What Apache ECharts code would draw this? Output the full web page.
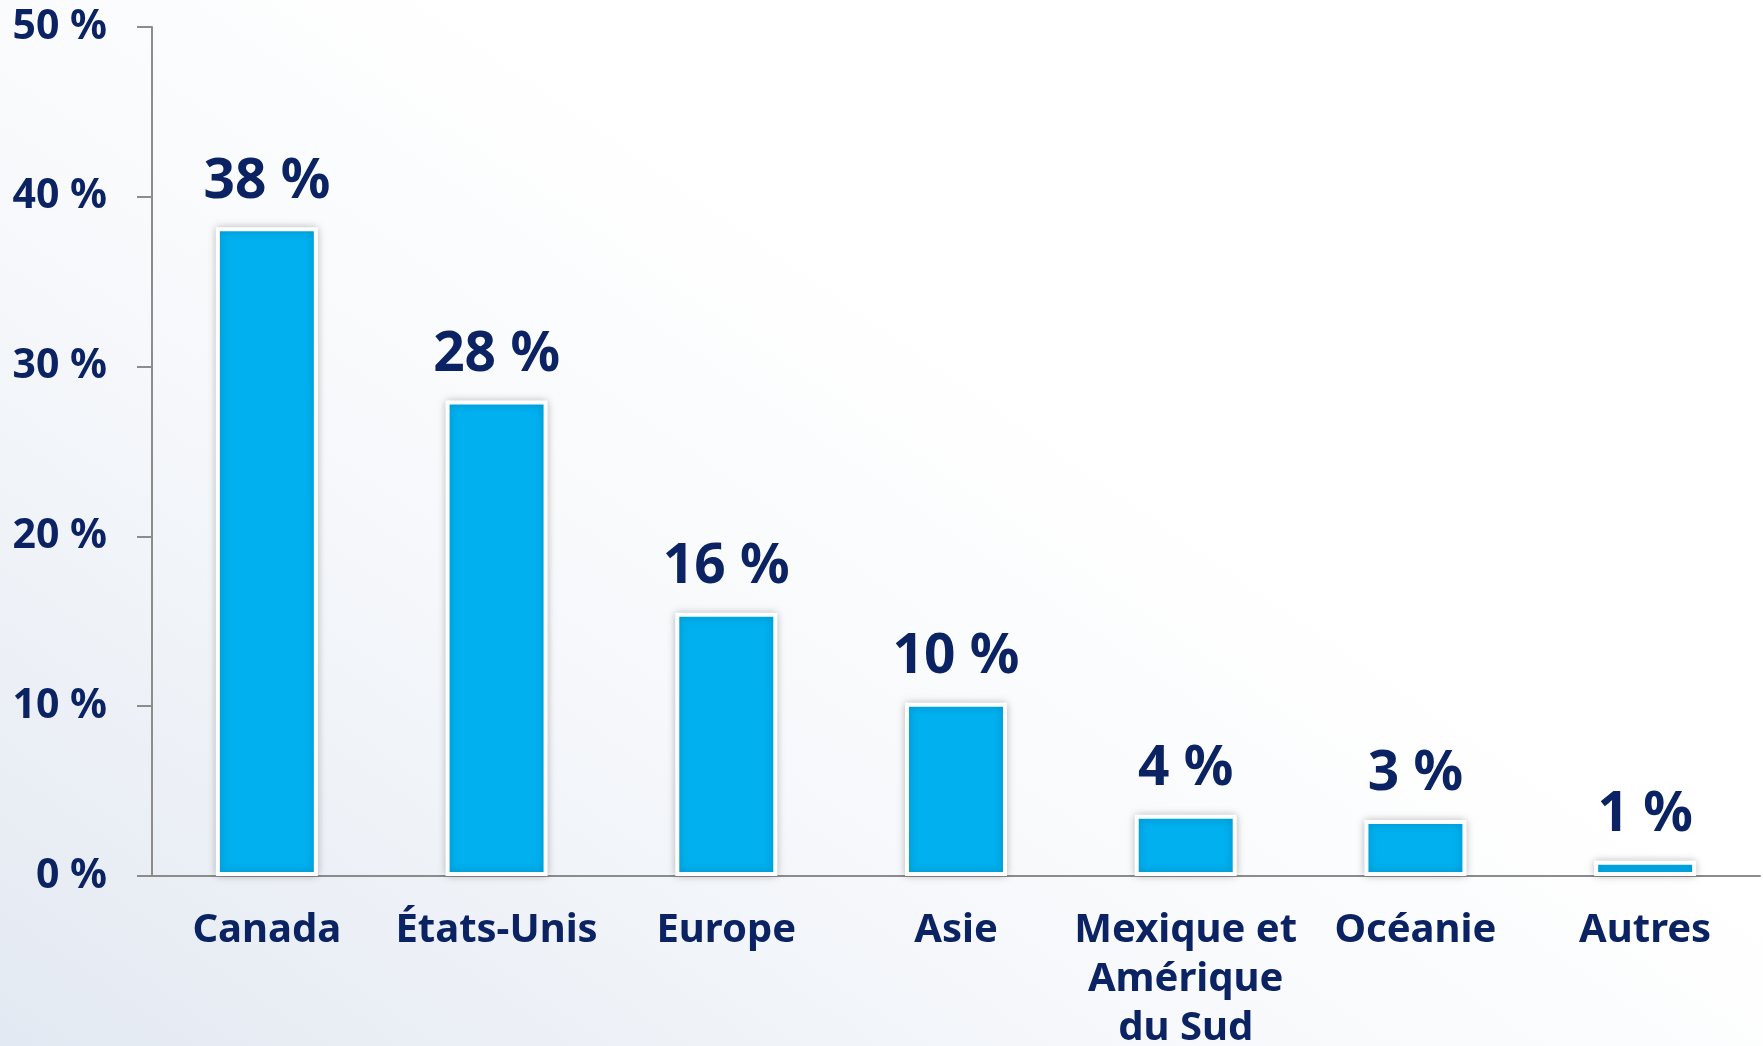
<!DOCTYPE html>
<html>
<head>
<meta charset="utf-8">
<script src="https://cdn.jsdelivr.net/npm/echarts@6/dist/echarts.min.js"></script>
<style>
  html, body { margin: 0; padding: 0; }
  body { background: linear-gradient(35deg, #e3e9f2 0%, #f6f8fb 35%, #ffffff 60%); }
</style>
</head>
<body>

<div id="main" style="width: 1763px;height:1046px;"></div>
<script type="text/javascript">
    // données
    var categories = ['Canada', 'États-Unis', 'Europe', 'Asie', 'Mexique et\nAmérique\ndu Sud', 'Océanie', 'Autres'];
    var values = [38.2, 28.0, 15.5, 10.2, 3.6, 3.3, 0.9];
    var valueLabels = ['38 %', '28 %', '16 %', '10 %', '4 %', '3 %', '1 %'];
    var yTicks = [0, 10, 20, 30, 40, 50];

    var navy = '#0b2362';
    var font = 'Noto Sans';

    var myChart = echarts.init(document.getElementById('main'));

    var option = {
        backgroundColor: 'transparent',
        animation: false,
        grid: {
            left: 152,
            right: 3,
            top: 27,
            bottom: 170,
            outerBoundsMode: 'none'
        },
        xAxis: {
            type: 'category',
            data: categories,
            axisLine: { lineStyle: { color: '#8c8c8c', width: 2 } },
            axisTick: { length: 15, lineStyle: { color: '#8c8c8c', width: 2 } },
            axisLabel: {
                color: navy,
                fontFamily: font,
                fontWeight: 'bold',
                fontSize: 40,
                lineHeight: 49,
                margin: 30,
                interval: 0
            }
        },
        yAxis: {
            type: 'value',
            min: yTicks[0],
            max: yTicks[yTicks.length - 1],
            interval: 10,
            splitLine: { show: false },
            axisLine: { show: true, lineStyle: { color: '#8c8c8c', width: 2 } },
            axisTick: { show: true, length: 15, lineStyle: { color: '#8c8c8c', width: 2 } },
            axisLabel: {
                color: navy,
                fontFamily: font,
                fontWeight: 'bold',
                fontSize: 41,
                margin: 45,
                formatter: function (v) { return v + ' %'; }
            }
        },
        series: [{
            type: 'bar',
            data: values,
            barWidth: 102,
            itemStyle: {
                color: '#00b0ef',
                borderColor: '#ffffff',
                borderWidth: 4,
                shadowBlur: 8,
                shadowColor: 'rgba(0,0,0,0.22)'
            },
            label: {
                show: true,
                position: 'top',
                distance: 18,
                color: navy,
                fontFamily: font,
                fontWeight: 'bold',
                fontSize: 55,
                formatter: function (p) { return valueLabels[p.dataIndex]; }
            }
        }]
    };

    myChart.setOption(option);
</script>
</body>
</html>
